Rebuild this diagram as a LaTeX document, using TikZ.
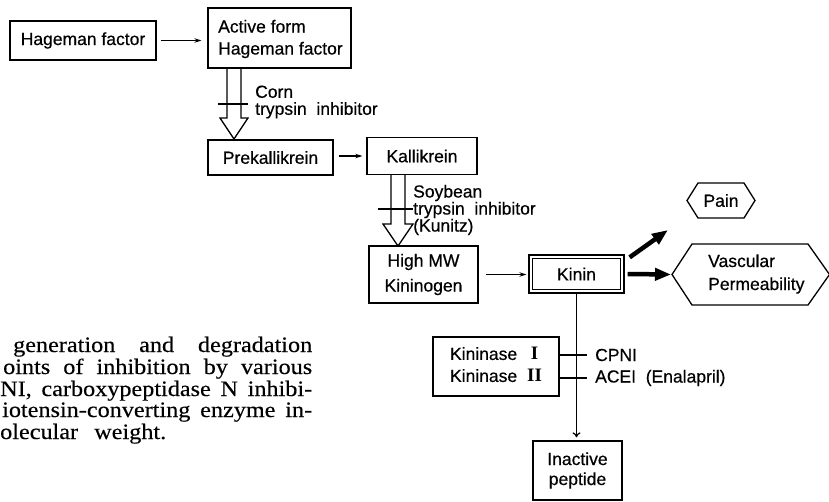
\documentclass[tikz,border=0pt]{standalone}
\usepackage{fontspec}
\newfontfamily\dv[FakeBold=0.5]{Liberation Sans}
\newfontfamily\capf[FakeStretch=1.1,FakeBold=0.3]{Liberation Serif}
\newfontfamily\numf{Liberation Serif}
\usetikzlibrary{arrows.meta,calc}
\begin{document}
\begin{tikzpicture}[x=1pt,y=-1pt,
  box/.style={draw, line width=1.3pt, inner sep=0pt, font=\dv\fontsize{17.5}{22}\selectfont, align=center},
  lab/.style={inner sep=0pt, font=\dv\fontsize{17.5}{17}\selectfont, align=left, anchor=west},
  txt/.style={inner sep=0pt, font=\dv\fontsize{17.5}{23}\selectfont, align=left},
  sarr/.style={line width=1.2pt, -{Stealth[length=7pt,width=4.5pt]}},
  big/.style={line width=4.5pt, -{Triangle[length=16pt,width=12pt]}},
  thinl/.style={line width=1.2pt},
  hollow/.style={line width=1.3pt, line join=miter},
  captxt/.style={inner sep=0pt, anchor=base west, font=\capf\fontsize{22}{22}\selectfont}]
\useasboundingbox (0,0) rectangle (829,501);

% boxes
\node[box, minimum width=146pt, minimum height=39pt] (hf) at (83,40.5) {Hageman factor};
\node[box, minimum width=143pt, minimum height=60pt] (af) at (279.5,38) {};
\node[txt, anchor=west, font=\dv\fontsize{17.5}{22}\selectfont] (aft) at (218,39) {Active form\\Hageman factor};
\node[box, minimum width=125pt, minimum height=35pt] (pk) at (270.5,157.5) {Prekallikrein};
\node[box, minimum width=110pt, minimum height=37pt] (kal) at (422,156) {Kallikrein};
\node[box, minimum width=109pt, minimum height=57pt, font=\dv\fontsize{17.5}{25}\selectfont] (hmw) at (423.5,274.5) {High MW\\Kininogen};
\node[box, minimum width=95pt, minimum height=38pt] (kin) at (576.5,274) {Kinin};
\draw[thinl] ([shift={(4,4)}]kin.north west) rectangle ([shift={(-4,-4)}]kin.south east);
\node[box, minimum width=126pt, minimum height=59pt] (kn) at (496,366.5)
  {\begin{tabular}{@{}l@{\hspace{10pt}}c@{}}Kininase & {\numf\bfseries\fontsize{19}{22}\selectfont I}\\ Kininase & {\numf\bfseries\fontsize{19}{22}\selectfont II}\end{tabular}};
\node[box, minimum width=89pt, minimum height=59pt, font=\dv\fontsize{17.5}{20}\selectfont] (ip) at (577.5,470.5) {Inactive\\peptide};

% hexagons
\node[txt] (pain) at (721,200.5) {Pain};
\draw[hollow] ($(pain)+(-34,0)$) -- ($(pain)+(-23,-17.5)$) -- ($(pain)+(23,-17.5)$) -- ($(pain)+(34,0)$)
  -- ($(pain)+(23,17.5)$) -- ($(pain)+(-23,17.5)$) -- cycle;
\coordinate (vc) at (750.5,274.5);
\node[txt, anchor=west] (vas) at (708,274) {Vascular\\Permeability};
\draw[hollow] ($(vc)+(-78.5,0)$) -- ($(vc)+(-58.5,-30.5)$) -- ($(vc)+(57.5,-30.5)$) -- ($(vc)+(79,0)$)
  -- ($(vc)+(57.5,30.5)$) -- ($(vc)+(-58.5,30.5)$) -- cycle;

% labels
\node[lab] (corn) at (255,102) {Corn\\trypsin\ \ inhibitor};
\node[lab] (soy) at (413,210) {Soybean\\trypsin\ \ inhibitor\\(Kunitz)};
\node[lab] (cpni) at (595,355) {CPNI};
\node[lab] (acei) at (595,378) {ACEI\ \ (Enalapril)};

% hollow arrows with inhibition bars
\coordinate (h1t) at (234,68);
\coordinate (h1b) at (234,139);
\draw[hollow] ($(h1t)+(-7,0)$) -- ($(h1b)+(-7,-21)$) -- ($(h1b)+(-14,-21)$) -- (h1b)
  -- ($(h1b)+(14,-21)$) -- ($(h1b)+(7,-21)$) -- ($(h1t)+(7,0)$);
\coordinate (b1l) at (218,104);
\coordinate (b1r) at (248,104);
\draw[thinl] (b1l) -- (b1r);

\coordinate (h2t) at (398,174);
\coordinate (h2b) at (398,246);
\draw[hollow] ($(h2t)+(-7,0)$) -- ($(h2b)+(-7,-22)$) -- ($(h2b)+(-15,-22)$) -- (h2b)
  -- ($(h2b)+(15,-22)$) -- ($(h2b)+(7,-22)$) -- ($(h2t)+(7,0)$);
\coordinate (b2l) at (378,209);
\draw[thinl] (b2l) -- (b2l -| soy.west);

% simple arrows
\draw[sarr, shorten <=4pt, shorten >=6pt] (hf.east) -- (hf.east -| af.west);
\draw[sarr, shorten <=5pt, shorten >=4pt] (kal.west -| pk.east) -- (kal.west);
\draw[sarr, shorten <=7pt, shorten >=2pt] (hmw.east) -- (hmw.east -| kin.west);
\draw[thinl, -{To[length=5pt,width=8pt]}, shorten >=3pt] (kin.south) -- (kin.south |- ip.north);
\draw[thinl, shorten >=8pt] (kn.east |- cpni.west) -- (cpni.west);
\draw[thinl, shorten >=8pt] (kn.east |- acei.west) -- (acei.west);

% thick arrows
\coordinate (pt) at (668,230);
\draw[big] ($(kin.north east)+(5,3)$) -- (pt);
\coordinate (vt) at ($(vc)+(-78.5,0)$);
\draw[big, shorten >=1pt] ($(kin.east)+(3,0)$) -- (vt);

% caption fragment
\node[captxt] (l1) at (13,352) {\makebox[299pt][s]{generation and degradation}};
\node[captxt] (l2) at (3,374) {\makebox[309pt][s]{oints of inhibition by various}};
\node[captxt] (l3) at (0,396) {\makebox[312pt][s]{NI, carboxypeptidase N inhibi-}};
\node[captxt] (l4) at (2,417) {\makebox[310pt][s]{iotensin-converting enzyme in-}};
\node[captxt] (l5) at (0,439) {\makebox[166pt][s]{olecular weight.}};
\end{tikzpicture}
\end{document}
